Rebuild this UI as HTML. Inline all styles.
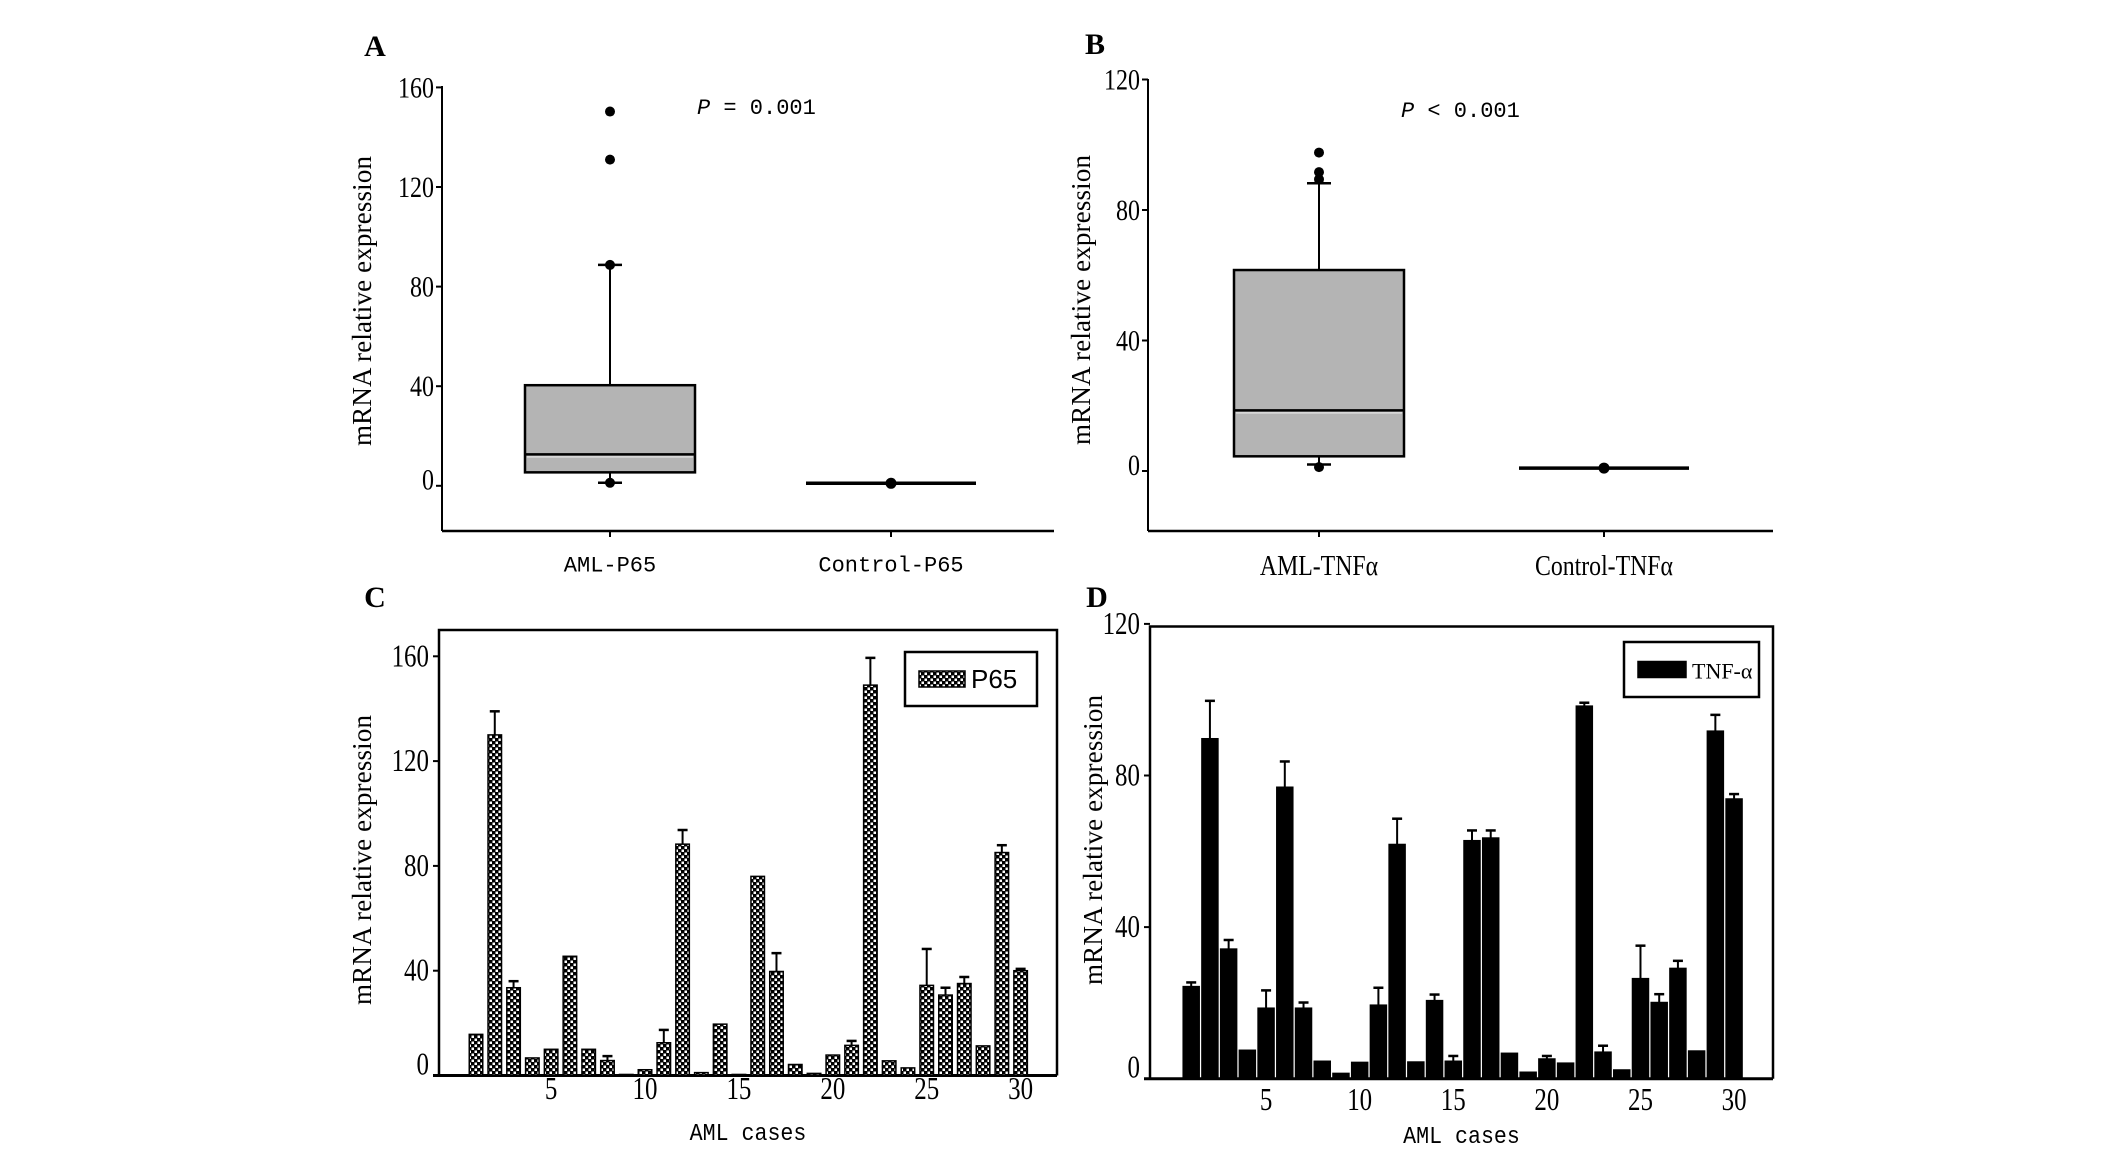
<!DOCTYPE html>
<html><head><meta charset="utf-8"><style>
html,body{margin:0;padding:0;background:#fff;}
svg{display:block;}
</style></head><body>
<svg id="fig" width="2126" height="1150" viewBox="0 0 2126 1150" xmlns="http://www.w3.org/2000/svg">
<defs>
<pattern id="chk" width="6" height="6" patternUnits="userSpaceOnUse">
<rect width="6" height="6" fill="#000"/><rect x="0.5" y="0.5" width="2.5" height="2.5" fill="#fff"/><rect x="3.5" y="3.5" width="2.5" height="2.5" fill="#fff"/>
</pattern>
</defs>
</svg>
<script>
// ---------- data ----------
const aTicks = [0, 40, 80, 120, 160];
const bTicks = [0, 40, 80, 120];
const boxCategoriesA = ["AML-P65", "Control-P65"];
const boxCategoriesB = ["AML-TNF\u03b1", "Control-TNF\u03b1"];
const amlP65Box = [1.2, 5.4, 12.6, 40.4, 88.7];       // lowWhisker, q1, median, q3, highWhisker
const amlP65Outliers = [1.2, 88.7, 131, 150.3];
const ctrlP65 = [1.0];
const amlTnfBox = [2.0, 4.5, 18.6, 61.6, 88.2];
const amlTnfOutliers = [1.2, 89.4, 91.6, 97.6];
const ctrlTnf = [0.9];
const cases = [1,2,3,4,5,6,7,8,9,10,11,12,13,14,15,16,17,18,19,20,21,22,23,24,25,26,27,28,29,30];
const caseTicks = [5, 10, 15, 20, 25, 30];
const p65Values = [15.7,130,33.5,6.7,10,45.5,10,5.7,0.4,2.2,12.5,88.3,1.1,19.6,0.4,76,39.7,4.2,0.8,7.8,11.5,149,5.6,2.9,34.4,30.7,35.1,11.3,85.1,40];
const p65Errors = [0,139,36,0,0,0,0,7.4,0,0,17.4,93.7,0,0,0,0,46.7,0,0,0,13.2,159.4,0,0,48.3,33.5,37.6,0,87.9,40.7];
const tnfValues = [24.3,89.7,34.2,7.5,18.6,76.9,18.6,4.6,1.4,4.3,19.4,61.8,4.4,20.6,4.6,62.8,63.5,6.7,1.7,5.2,4.1,98.3,7,2.3,26.4,20.1,29.1,7.3,91.7,73.8];
const tnfErrors = [25.4,99.7,36.6,7.5,23.3,83.7,20.1,4.6,1.4,4.3,24,68.6,4.4,22.2,6,65.5,65.5,6.7,1.7,6,4.1,99.2,8.7,2.3,35.1,22.3,31.1,7.3,96,75.1];

// ---------- helpers ----------
const NS = "http://www.w3.org/2000/svg";
const svg = document.getElementById("fig");
function mk(tag, attrs, parent) {
  const e = document.createElementNS(NS, tag);
  for (const k in attrs) e.setAttribute(k, attrs[k]);
  (parent || svg).appendChild(e);
  return e;
}
function line(x1,y1,x2,y2,w,p){return mk("line",{x1,y1,x2,y2,stroke:"#000","stroke-width":w||2},p);}
function ctext(str,x,y,size,anchor,family,sx,p){
  const g = mk("g",{transform:`translate(${x},${y}) scale(${sx||1},1)`},p);
  const t = mk("text",{x:0,y:0,"font-size":size,"text-anchor":anchor||"middle","font-family":family||"'Liberation Serif',serif","dominant-baseline":"central"},g);
  t.textContent = str;
  return t;
}

// ---------- panel labels ----------
[["A",375,46],["B",1095,44],["C",375,597],["D",1097,597]].forEach(d=>{
  const t = mk("text",{x:d[1],y:d[2]+10,"font-size":30,"font-weight":"bold","text-anchor":"middle","font-family":"'Liberation Serif',serif"});
  
  
  t.textContent = d[0];
});

// ---------- box plot panels ----------
function boxPanel(cfg){
  const g = mk("g",{});
  
  
  const y = v => cfg.y0 - v*cfg.k;
  const ax = line(cfg.x0, cfg.top, cfg.x0, cfg.axY, 2, g);
  
  
  const xa = line(cfg.x0, cfg.axY, cfg.xr, cfg.axY, 2.5, g);
  
  
  cfg.ticks.forEach(v=>{
    line(cfg.x0-6, y(v), cfg.x0, y(v), 2, g);
    const t = ctext(String(v), cfg.x0-8, y(v)-(v===0?6:0), 30, "end", null, 0.8, g);
    
    
  });
  const yl = ctext("mRNA relative expression", cfg.ylx, cfg.yly, 27, "middle", null, 1, g);
  yl.setAttribute('transform','rotate(-90)');
  yl.parentNode.setAttribute('transform',`translate(${cfg.ylx},${cfg.yly})`);
  yl.setAttribute('textLength', 290);
  
  
  cfg.cats.forEach((c,i)=>{
    const cx = cfg.cx[i];
    line(cx, cfg.axY, cx, cfg.axY+6, 2, g);
    const t = ctext(c, cx, cfg.axY+35, cfg.catFs, "middle", cfg.catFont, cfg.catSx, g);
    
    
  });
  const b = cfg.box, cx = cfg.cx[0], hw = cfg.hw;
  line(cx, y(b[3]), cx, y(b[4]), 2, g);
  line(cx-12, y(b[4]), cx+12, y(b[4]), 2.5, g);
  line(cx, y(b[1]), cx, y(b[0]), 2, g);
  line(cx-12, y(b[0]), cx+12, y(b[0]), 2.5, g);
  const r = mk("rect",{x:cx-hw,y:y(b[3]),width:2*hw,height:y(b[1])-y(b[3]),fill:"#b4b4b4",stroke:"#000","stroke-width":2.5},g);
  
  
  line(cx-hw, y(b[2]), cx+hw, y(b[2]), 2.5, g);
  line(cx-hw+2, y(b[2])+2.5, cx+hw-2, y(b[2])+2.5, 1.5, g).setAttribute('stroke','#ddd');
  cfg.outliers.forEach(v=>{
    const c = mk("circle",{cx:cx,cy:y(v),r:5,fill:"#000"},g);
    
    
  });
  const c2 = cfg.cx[1];
  const cl = line(c2-cfg.hw, y(cfg.ctrl[0]), c2+cfg.hw, y(cfg.ctrl[0]), 3.5, g);
  
  
  mk("circle",{cx:c2,cy:y(cfg.ctrl[0]),r:5.5,fill:"#000"},g);
  const pt = mk("text",{x:cfg.px,y:cfg.py+8,"font-size":22,"font-family":"'Liberation Mono',monospace"},g);
  
  
  const pi = mk("tspan",{"font-style":"italic"},pt); pi.textContent = "P";
  const pr = mk("tspan",{},pt); pr.textContent = cfg.ptxt;
}
boxPanel({name:"panel-a-boxplot",x0:442,top:86,axY:531,xr:1054,y0:485.8,k:2.49,ticks:aTicks,ylx:362,yly:301,
  cats:boxCategoriesA,cx:[610,891],hw:85,box:amlP65Box,outliers:amlP65Outliers,ctrl:ctrlP65,
  px:697,py:106,ptxt:" = 0.001",catFont:"'Liberation Mono',monospace",catSx:1,catFs:22});
boxPanel({name:"panel-b-boxplot",x0:1148,top:79,axY:531,xr:1773,y0:471,k:3.2625,ticks:bTicks,ylx:1081,yly:300,
  cats:boxCategoriesB,cx:[1319,1604],hw:85,box:amlTnfBox,outliers:amlTnfOutliers,ctrl:ctrlTnf,
  px:1401,py:109,ptxt:" < 0.001",catFont:"'Liberation Serif',serif",catSx:0.85,catFs:28});

// ---------- bar panels ----------
function barPanel(cfg){
  const g = mk("g",{});
  
  
  const y = v => cfg.y0 - v*cfg.k;
  const x = c => cfg.x1 + (c-1)*cfg.dx;
  const fr = mk("path",{d:`M${cfg.x0},${cfg.axY} V${cfg.top} H${cfg.xr} V${cfg.axY}`,fill:"none",stroke:"#000","stroke-width":2.5},g);
  
  
  const xa = line(cfg.x0-6, cfg.axY, cfg.xr, cfg.axY, 3, g);
  
  
  cfg.ticks.forEach(v=>{
    line(cfg.x0-6, y(v), cfg.x0, y(v), 2, g);
    const t = ctext(String(v), cfg.x0-10, y(v)-(v===0?11:0), 32, "end", null, 0.78, g);
    
    
  });
  const yl = ctext("mRNA relative expression", 0, 0, 27, "middle", null, 1, g);
  yl.setAttribute('transform','rotate(-90)');
  yl.parentNode.setAttribute('transform',`translate(${cfg.ylx},${cfg.yly})`);
  yl.setAttribute('textLength', 290);
  
  
  caseTicks.forEach(c=>{
    const t = ctext(String(c), x(c), cfg.tickY, 32, "middle", null, 0.78, g);
    
    
  });
  const xt = ctext("AML cases", (cfg.x0+cfg.xr)/2, cfg.axY+58, 24, "middle", "'Liberation Mono',monospace", 0.9, g);
  
  
  cases.forEach((c,i)=>{
    const v = cfg.vals[i], e = cfg.errs[i];
    if (e > v) {
      line(x(c), y(e), x(c), y(v), 2, g);
      line(x(c)-5, y(e), x(c)+5, y(e), 2.5, g);
    }
    const r = mk("rect",{x:x(c)-cfg.bw/2,y:y(v),width:cfg.bw,height:Math.max(cfg.y0-y(v),1),fill:cfg.fill,stroke:"#000","stroke-width":1.5},g);
    
    
  });
  const lg = mk("g",{},g);
  
  
  mk("rect",{x:cfg.lg[0],y:cfg.lg[1],width:cfg.lg[2],height:cfg.lg[3],fill:"#fff",stroke:"#000","stroke-width":2.5},lg);
  mk("rect",{x:cfg.lg[0]+14,y:cfg.lg[1]+cfg.lg[3]/2-8,width:cfg.lgSw,height:16,fill:cfg.fill,stroke:"#000","stroke-width":1.5},lg);
  const lt = mk("text",{x:cfg.lg[0]+20+cfg.lgSw,y:cfg.lg[1]+cfg.lg[3]/2+9,"font-size":cfg.lgFs,"font-family":cfg.lgFont},lg);
  
  
  lt.textContent = cfg.label;
}
barPanel({name:"panel-c-bars",x0:439,top:630,xr:1057,axY:1075.5,y0:1075.5,k:2.62,ticks:aTicks,ylx:362,yly:860,
  x1:476,dx:18.78,bw:13.5,vals:p65Values,errs:p65Errors,fill:"url(#chk)",tickY:1089,
  lg:[905,652,132,54],lgSw:46,lgFs:26,lgFont:"'Liberation Sans',sans-serif",label:"P65"});
barPanel({name:"panel-d-bars",x0:1150,top:626.5,xr:1773,axY:1078.7,y0:1078.7,k:3.79,ticks:bTicks,ylx:1093,yly:840,
  x1:1191.2,dx:18.72,bw:16,vals:tnfValues,errs:tnfErrors,fill:"#000",tickY:1100,
  lg:[1624,642,135,55],lgSw:48,lgFs:22,lgFont:"'Liberation Serif',serif",label:"TNF-\u03b1"});
</script>
</body></html>
